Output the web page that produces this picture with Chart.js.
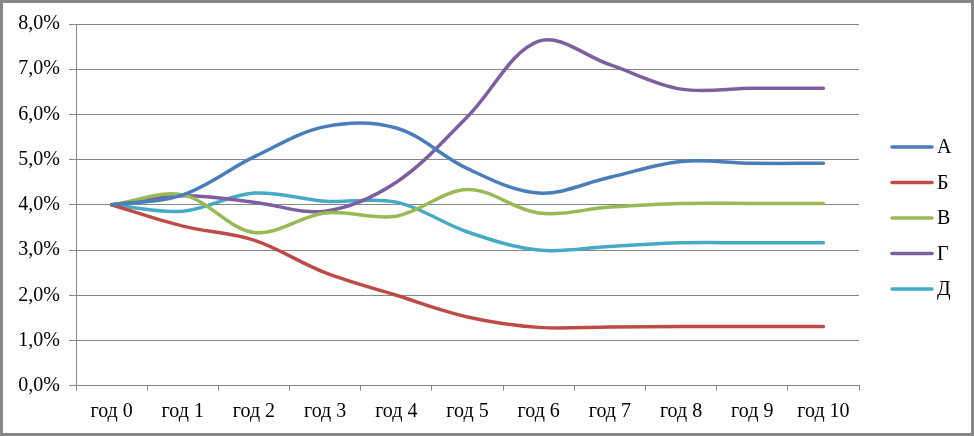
<!DOCTYPE html>
<html>
<head>
<meta charset="utf-8">
<script src="https://cdn.jsdelivr.net/npm/chart.js@4/dist/chart.umd.min.js"></script>
<style>
    html, body { margin: 0; padding: 0; background: #fff; }
    #wrap {
        position: absolute; left: 0; top: 0;
        width: 974px; height: 436px;
        box-sizing: border-box;
        border: 3px solid #878787;
        background: #fff;
    }
    #chart { display: block; }
</style>
</head>
<body>
<div id="wrap"><canvas id="chart" width="968" height="430"></canvas></div>
<script>
// 1. data
const years = ['год 0', 'год 1', 'год 2', 'год 3', 'год 4', 'год 5', 'год 6', 'год 7', 'год 8', 'год 9', 'год 10'];
const seriesNames = ['А', 'Б', 'В', 'Г', 'Д'];
const seriesA = [4.0, 4.22, 5.06, 5.73, 5.70, 4.80, 4.26, 4.61, 4.96, 4.92, 4.92];
const seriesB = [4.0, 3.53, 3.22, 2.50, 2.00, 1.52, 1.29, 1.30, 1.31, 1.31, 1.31];
const seriesV = [4.0, 4.22, 3.39, 3.82, 3.75, 4.34, 3.82, 3.95, 4.03, 4.03, 4.03];
const seriesG = [4.0, 4.20, 4.06, 3.86, 4.50, 5.95, 7.62, 7.10, 6.56, 6.58, 6.58];
const seriesD = [4.0, 3.86, 4.26, 4.08, 4.06, 3.40, 3.00, 3.08, 3.16, 3.16, 3.16];
const colors = ['#4A7EBB', '#BE4B48', '#98B954', '#7D5FA0', '#46AAC5'];

// 2. common style
const gridColor = '#868686';
const fontFamily = '"Liberation Serif", "Times New Roman", serif';
Chart.defaults.font.family = fontFamily;
Chart.defaults.font.size = 20;
Chart.defaults.color = '#000';

const allSeries = [seriesA, seriesB, seriesV, seriesG, seriesD];
const datasets = allSeries.map(function(values, i) {
    return {
        label: seriesNames[i],
        data: values,
        borderColor: colors[i],
        backgroundColor: colors[i],
        borderWidth: 3.5,
        pointRadius: 0,
        tension: 0.35,
        borderCapStyle: 'round',
        fill: false
    };
});

// 3. legend on the right (drawn from dataset labels/colors)
const sideLegend = {
    id: 'sideLegend',
    afterDraw(chart) {
        const ctx = chart.ctx;
        ctx.save();
        ctx.font = '20px ' + fontFamily;
        ctx.textBaseline = 'middle';
        ctx.textAlign = 'left';
        chart.data.datasets.forEach(function(ds, i) {
            const y = 144 + i * 35.5;
            ctx.strokeStyle = ds.borderColor;
            ctx.lineWidth = 3.5;
            ctx.lineCap = 'round';
            ctx.beginPath();
            ctx.moveTo(889, y);
            ctx.lineTo(929, y);
            ctx.stroke();
            ctx.fillStyle = '#000';
            ctx.fillText(ds.label, 934, y + 1);
        });
        ctx.restore();
    }
};

// 4. chart
new Chart(document.getElementById('chart'), {
    type: 'line',
    data: { labels: years, datasets: datasets },
    options: {
        responsive: false,
        animation: false,
        layout: { padding: { left: 0, right: 112, top: 20.5, bottom: 0 } },
        plugins: {
            legend: { display: false },
            tooltip: { enabled: false }
        },
        scales: {
            x: {
                offset: true,
                afterFit: function(scale) { scale.height = 47.3; },
                grid: {
                    offset: true,
                    drawOnChartArea: false,
                    color: gridColor,
                    tickLength: 5
                },
                border: { color: gridColor },
                ticks: { padding: 9, maxRotation: 0, autoSkip: false }
            },
            y: {
                min: 0,
                max: 8,
                afterFit: function(scale) { scale.width = 73; },
                grid: { color: gridColor, tickLength: 7 },
                border: { color: gridColor },
                ticks: {
                    stepSize: 1,
                    padding: 9,
                    callback: function(v) { return v.toFixed(1).replace('.', ',') + '%'; }
                }
            }
        }
    },
    plugins: [sideLegend]
});
</script>
</body>
</html>
